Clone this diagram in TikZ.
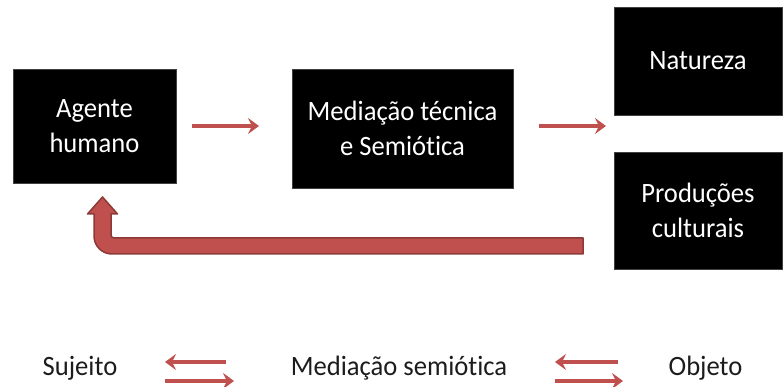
\documentclass[tikz,border=0pt]{standalone}
\usepackage{fontspec}
\newfontfamily\calfont[FakeStretch=0.95,Ligatures=NoCommon]{Carlito}
\usetikzlibrary{arrows.meta}
\definecolor{ored}{HTML}{C0504D}
\definecolor{oredd}{HTML}{8C3A37}
\definecolor{txt}{HTML}{1C1C1C}
\tikzset{
  box/.style={fill=black, draw=black!75, line width=0.8pt, align=center, text=white,
    font=\calfont\fontsize{28}{35}\selectfont, inner sep=0pt},
  redarrow/.style={draw=ored, line width=3.6pt, -{Stealth[length=11pt,width=16pt,inset=4pt]}},
  legend/.style={text=txt, font=\calfont\fontsize{28}{35}\selectfont, inner sep=0pt},
  bigarrow/.style={fill=ored, draw=oredd, line width=1.5pt, line join=round}
}
\begin{document}
\begin{tikzpicture}[x=1pt,y=-1pt]
\useasboundingbox (0,0) rectangle (784,387);
% boxes
\node[box, minimum width=163pt, minimum height=114pt] (ag) at (94.5,126) {Agente\\humano};
\node[box, minimum width=221pt, minimum height=119pt] (me) at (402.5,128.5) {Media\c{c}\~ao t\'ecnica\\e Semi\'otica};
\node[box, minimum width=168pt, minimum height=108pt] (na) at (698,61) {Natureza};
\node[box, minimum width=168pt, minimum height=117pt] (pr) at (698,210.5) {Produ\c{c}\~oes\\culturais};
% arrows between boxes
\coordinate (a1s) at (192,126);
\coordinate (a1e) at (259,126);
\coordinate (a2s) at (539,126);
\coordinate (a2e) at (606,126);
\draw[redarrow] (a1s) -- (a1e);
\draw[redarrow] (a2s) -- (a2e);
% big return arrow
\draw[bigarrow] (583,238) -- (114,238) .. controls (112.3,238) and (111,236.7) .. (111,235)
  -- (111,214) -- (117.5,214) -- (102.5,197) -- (87.5,214) -- (94,214) -- (94,236)
  .. controls (94,246) and (102,254) .. (112,254) -- (583,254) -- cycle;
% legend
\node[legend] (su) at (80,368) {Sujeito};
\node[legend] (ms) at (399,368) {Media\c{c}\~ao semi\'otica};
\node[legend] (ob) at (705.5,368) {Objeto};
\coordinate (b1a) at (226,362);
\coordinate (b1b) at (165,362);
\coordinate (b2a) at (165,381);
\coordinate (b2b) at (234,381);
\coordinate (b3a) at (618,362);
\coordinate (b3b) at (555,362);
\coordinate (b4a) at (555,381);
\coordinate (b4b) at (623,381);
\draw[redarrow] (b1a) -- (b1b);
\draw[redarrow] (b2a) -- (b2b);
\draw[redarrow] (b3a) -- (b3b);
\draw[redarrow] (b4a) -- (b4b);
\end{tikzpicture}
\end{document}
